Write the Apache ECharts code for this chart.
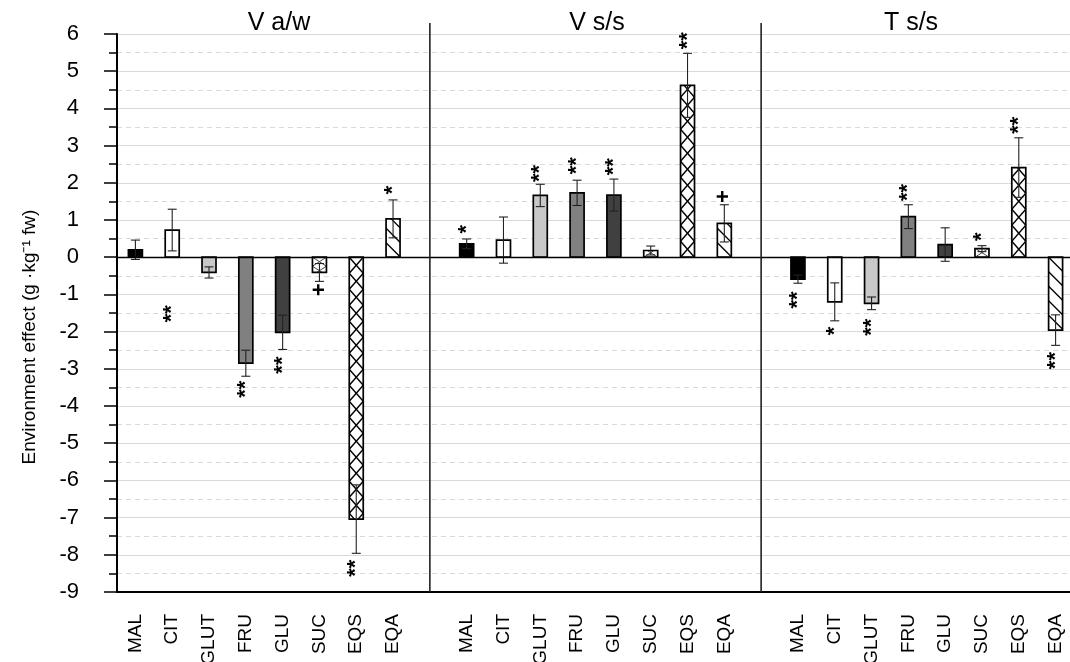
<!DOCTYPE html>
<html><head><meta charset="utf-8">
<script src="https://cdn.jsdelivr.net/npm/echarts@6/dist/echarts.min.js"></script>
<style>html,body{margin:0;padding:0;background:#fff}#c{width:1070px;height:662px}</style>
</head><body><div id="c"></div>
<script>
// ---------- data ----------
const categories = ['MAL', 'CIT', 'GLUT', 'FRU', 'GLU', 'SUC', 'EQS', 'EQA'];
const panelTitles = ['V a/w', 'V s/s', 'T s/s'];
const yTicks = [-9, -8, -7, -6, -5, -4, -3, -2, -1, 0, 1, 2, 3, 4, 5, 6];

const vawMean  = [0.20, 0.73, -0.41, -2.85, -2.02, -0.41, -7.04, 1.03];
const vawErr   = [0.26, 0.56, 0.15, 0.35, 0.46, 0.24, 0.92, 0.51];
const vawSig   = ['', '', '**', '**', '**', '+', '**', '*'];
const vawSigAt = [null, null, -1.52, -3.55, -2.90, -0.88, -8.36, 1.81];
const vawSigShift = [0, 0, -0.7, 0, 0, 0, 0, 0];

const vssMean  = [0.36, 0.46, 1.66, 1.73, 1.67, 0.18, 4.62, 0.91];
const vssErr   = [0.13, 0.62, 0.30, 0.34, 0.43, 0.12, 0.86, 0.50];
const vssSig   = ['*', '', '**', '**', '**', '', '**', '+'];
const vssSigAt = [0.75, null, 2.25, 2.46, 2.43, null, 5.82, 1.63];
const vssSigShift = [0, 0, 0, 0, 0, 0, 0, 0];

const tssMean  = [-0.59, -1.20, -1.24, 1.09, 0.34, 0.23, 2.41, -1.96];
const tssErr   = [0.11, 0.51, 0.17, 0.32, 0.45, 0.08, 0.80, 0.41];
const tssSig   = ['**', '*', '**', '**', '', '*', '**', '**'];
const tssSigAt = [-1.15, -1.98, -1.88, 1.74, null, 0.55, 3.55, -2.78];
const tssSigShift = [0, 0, 0, 0, 0, 0, 0, 0];

// ---------- build ----------
const panels = [
  {mean: vawMean, err: vawErr, sig: vawSig, at: vawSigAt, shift: vawSigShift},
  {mean: vssMean, err: vssErr, sig: vssSig, at: vssSigAt, shift: vssSigShift},
  {mean: tssMean, err: tssErr, sig: tssSig, at: tssSigAt, shift: tssSigShift}
];
const xLabels = [];
const gapIdx = [];
panels.forEach((p, pi) => {
  if (pi > 0) { gapIdx.push([xLabels.length]); xLabels.push(''); }
  categories.forEach(c => xLabels.push(c));
});
const barData = [], errData = [], sigData = [];
panels.forEach((p, pi) => {
  categories.forEach((c, ci) => {
    const idx = pi * (categories.length + 1) + ci;
    barData.push([idx, p.mean[ci], ci]);
    errData.push([idx, p.mean[ci], p.err[ci]]);
    if (p.sig[ci]) sigData.push([idx + p.shift[ci], p.at[ci], p.sig[ci]]);
  });
});

// ---------- styles ----------
const FONT = 'Liberation Sans, Arial, sans-serif';
const fills = ['#000000', '#ffffff', '#c8c8c8', '#808080', '#404040', '#ffffff', '#ffffff', '#ffffff'];
const hatchStyle = [null, null, null, null, null,
  {kind: 'x', step: 9, w: 0.9, c: '#333'},
  {kind: 'x', step: 16, w: 1.4, c: '#000'},
  {kind: 'diag', step: 14.5, d: 14, w: 1.3, c: '#000'}];

function clipSeg(x1, y1, x2, y2, L, T, R, B) {
  let t0 = 0, t1 = 1; const dx = x2 - x1, dy = y2 - y1;
  const p = [-dx, dx, -dy, dy], q = [x1 - L, R - x1, y1 - T, B - y1];
  for (let i = 0; i < 4; i++) {
    if (p[i] === 0) { if (q[i] < 0) return null; }
    else { const r = q[i] / p[i];
      if (p[i] < 0) { if (r > t1) return null; if (r > t0) t0 = r; }
      else { if (r < t0) return null; if (r < t1) t1 = r; } }
  }
  return {x1: x1 + t0 * dx, y1: y1 + t0 * dy, x2: x1 + t1 * dx, y2: y1 + t1 * dy};
}

const chart = echarts.init(document.getElementById('c'), null, {renderer: 'canvas'});
const option = {
  animation: false,
  backgroundColor: '#fff',
  textStyle: {fontFamily: FONT},
  title: panelTitles.map((t, i) => ({
    text: t, left: [274, 592, 906][i], top: 6, textAlign: 'center',
    textStyle: {fontSize: 25, fontWeight: 'normal', color: '#000', fontFamily: FONT}
  })),
  grid: {left: 117, right: -4, top: 34, bottom: 70, containLabel: false, outerBoundsMode: 'none'},
  xAxis: {
    type: 'category', data: xLabels, boundaryGap: true,
    axisLine: {onZero: false, lineStyle: {color: '#000', width: 2}},
    axisTick: {show: false},
    axisLabel: {interval: 0, rotate: 90, fontSize: 19, color: '#000', margin: 22, fontFamily: FONT},
    splitLine: {show: false}
  },
  yAxis: {
    type: 'value', min: yTicks[0], max: yTicks[yTicks.length - 1], interval: 1,
    name: 'Environment effect (g ·kg⁻¹ fw)', nameLocation: 'middle', nameGap: 78,
    nameTextStyle: {fontSize: 19, color: '#000', fontFamily: FONT, padding: [0, 48, 0, 0]},
    axisLine: {show: true, lineStyle: {color: '#000', width: 2}},
    axisTick: {show: true, length: 13, lineStyle: {color: '#000', width: 1.5}},
    minorTick: {show: true, splitNumber: 2, length: 8, lineStyle: {color: '#000', width: 1.5}},
    axisLabel: {fontSize: 22, color: '#000', margin: 38, fontFamily: FONT},
    splitLine: {show: true, lineStyle: {color: '#d9d9d9', width: 1}},
    minorSplitLine: {show: true, lineStyle: {color: '#d9d9d9', width: 1, type: [5, 4]}}
  },
  series: [
    {
      type: 'custom', name: 'bars', data: barData, encode: {x: 0, y: 1}, z: 3,
      renderItem(params, api) {
        const idx = api.value(0), v = api.value(1), ci = api.value(2);
        const p0 = api.coord([idx, 0]), p1 = api.coord([idx, v]);
        const bw = api.size([1, 0])[0] * 0.38;
        const L = p0[0] - bw / 2, R = p0[0] + bw / 2;
        const T = Math.min(p0[1], p1[1]), B = Math.max(p0[1], p1[1]);
        const children = [{type: 'rect', shape: {x: L, y: T, width: bw, height: B - T},
          style: {fill: fills[ci], stroke: null}}];
        const h = hatchStyle[ci];
        if (h) {
          const base = p0[1];
          const d = h.kind === 'x' ? h.step : h.d;
          const kMin = Math.floor((T - d - base) / h.step) - 1, kMax = Math.ceil((B - base) / h.step) + 1;
          for (let k = kMin; k <= kMax; k++) {
            const t = base + k * h.step;
            const segs = [[L, t, R, t + d]];
            if (h.kind === 'x') segs.push([L, t + d, R, t]);
            segs.forEach(s => {
              const c = clipSeg(s[0], s[1], s[2], s[3], L, T, R, B);
              if (c) children.push({type: 'line', shape: c, style: {stroke: h.c, lineWidth: h.w}});
            });
          }
        }
        children.push({type: 'rect', shape: {x: L, y: T, width: bw, height: B - T},
          style: {fill: null, stroke: '#000', lineWidth: 1.7}});
        return {type: 'group', children};
      },
      markLine: {
        silent: true, symbol: 'none', label: {show: false},
        lineStyle: {color: '#000', width: 1.3, type: 'solid'},
        data: [{yAxis: 0}]
      }
    },
    {
      type: 'custom', name: 'errors', data: errData, encode: {x: 0, y: 1}, z: 4,
      renderItem(params, api) {
        const idx = api.value(0), m = api.value(1), e = api.value(2);
        const hi = api.coord([idx, m + e]), lo = api.coord([idx, m - e]);
        const cw = 4.5;
        const st = {stroke: '#222', lineWidth: 1.1};
        return {type: 'group', children: [
          {type: 'line', shape: {x1: hi[0], y1: hi[1], x2: lo[0], y2: lo[1]}, style: st},
          {type: 'line', shape: {x1: hi[0] - cw, y1: hi[1], x2: hi[0] + cw, y2: hi[1]}, style: st},
          {type: 'line', shape: {x1: lo[0] - cw, y1: lo[1], x2: lo[0] + cw, y2: lo[1]}, style: st}
        ]};
      }
    },
    {
      type: 'custom', name: 'significance', data: sigData, encode: {x: 0, y: 1}, z: 5,
      renderItem(params, api) {
        const p = api.coord([api.value(0), api.value(1)]);
        const txt = sigData[params.dataIndex][2];
        return {type: 'text', x: p[0], y: p[1], rotation: Math.PI / 2,
          style: {text: txt, fontSize: 22, fontWeight: 'bold', fontFamily: FONT, fill: '#000',
            align: 'center', verticalAlign: 'middle'}};
      }
    },
    {
      type: 'custom', name: 'dividers', data: gapIdx, encode: {x: 0}, z: 6,
      renderItem(params, api) {
        const idx = api.value(0);
        const top = api.coord([idx, yTicks[yTicks.length - 1]]);
        const bot = api.coord([idx, yTicks[0]]);
        return {type: 'line', shape: {x1: top[0], y1: top[1] - 11, x2: bot[0], y2: bot[1]},
          style: {stroke: '#222', lineWidth: 1.6}};
      }
    }
  ]
};
chart.setOption(option);
</script>
</body></html>
